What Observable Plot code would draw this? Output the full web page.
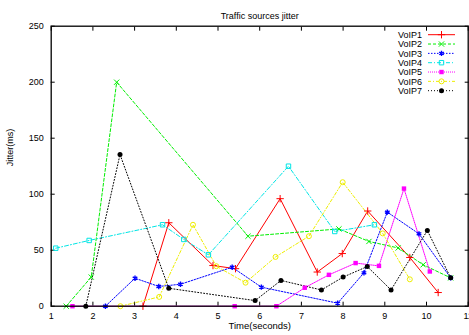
<!DOCTYPE html>
<html>
<head>
<meta charset="utf-8">
<script src="https://cdn.jsdelivr.net/npm/d3@7"></script>
<script src="https://cdn.jsdelivr.net/npm/@observablehq/plot@0.6"></script>
<style>
  html, body { margin: 0; padding: 0; background: white; }
  #chart { width: 469px; height: 335px; }
</style>
</head>
<body>
<div id="chart"></div>
<script>
const title = "Traffic sources jitter";
const xLabel = "Time(seconds)";
const yLabel = "Jitter(ms)";
const xTicks = [1, 2, 3, 4, 5, 6, 7, 8, 9, 10, 11];
const yTicks = [0, 50, 100, 150, 200, 250];
const seriesNames = ["VoIP1", "VoIP2", "VoIP3", "VoIP4", "VoIP5", "VoIP6", "VoIP7"];

const voip1X = [3.2, 3.82, 4.88, 5.42, 6.49, 7.38, 7.98, 8.59, 9.6, 10.28];
const voip1Y = [0, 74.5, 36.3, 33.5, 96, 30.5, 47, 85, 43.5, 12.2];
const voip2X = [1.36, 1.96, 2.57, 5.72, 7.9, 8.62, 9.32, 9.92, 10.58];
const voip2Y = [0, 26, 200, 62.5, 69, 57.8, 52, 37, 25.3];
const voip3X = [2.3, 3.01, 3.58, 4.1, 5.34, 6.04, 7.87, 8.5, 9.06, 9.82, 10.58];
const voip3Y = [0, 25, 17.6, 19.6, 34.8, 17, 2.7, 29.8, 84, 64.6, 25.3];
const voip4X = [1.11, 1.91, 3.67, 4.18, 4.77, 6.69, 7.8, 8.75];
const voip4Y = [51.8, 58.7, 72.7, 59.6, 45.9, 125, 66.7, 72.7];
const voip5X = [1.51, 5.4, 6.4, 7.08, 7.66, 8.3, 8.86, 9.46, 10.08];
const voip5Y = [0, 0, 0, 16.5, 28, 38.5, 36, 105, 31];
const voip6X = [2.66, 3.59, 4.4, 4.96, 5.66, 6.38, 7.18, 7.99, 8.95, 9.6];
const voip6Y = [0, 8.3, 72.7, 35.7, 21, 44, 62.5, 110.7, 65, 24];
const voip7X = [1.83, 2.65, 3.82, 5.89, 6.51, 7.48, 8.0, 8.58, 9.15, 10.02, 10.58];
const voip7Y = [0, 135.4, 16, 5, 23, 14.5, 26, 35.4, 14.5, 67.6, 25.3];

const xs = [voip1X, voip2X, voip3X, voip4X, voip5X, voip6X, voip7X];
const ys = [voip1Y, voip2Y, voip3Y, voip4Y, voip5Y, voip6Y, voip7Y];

// styles
const colors = ["#ff0000", "#00ee00", "#0000ff", "#00e5e5", "#ff00ff", "#eeee00", "#000000"];
const dashes = [null, "3,2", "1.5,1.5", "4,2,1,2", "1,1", "3,2,1,2", "1,2"];
const symbols = ["plus", "times", "asterisk", "square", "square", "circle", "circle"];
const filled = [false, false, false, false, true, false, true];
const markWidths = [1, 1, 1.4, 1, 0, 1, 0];

const series = seriesNames.map((name, i) =>
  xs[i].map((x, j) => ({series: name, x, y: ys[i][j]}))
);

const marks = [];
series.forEach((data, i) => {
  marks.push(Plot.line(data, {
    x: "x", y: "y", stroke: colors[i], strokeWidth: 1,
    strokeDasharray: dashes[i]
  }));
});
series.forEach((data, i) => {
  marks.push(Plot.dot(data, filled[i]
    ? {x: "x", y: "y", symbol: symbols[i], fill: colors[i], stroke: "none", r: 2.5}
    : {x: "x", y: "y", symbol: symbols[i], stroke: colors[i], fill: "none", strokeWidth: markWidths[i], r: 2.5}
  ));
});

const chart = Plot.plot({
  width: 469,
  height: 335,
  marginLeft: 50.7,
  marginRight: 1.3,
  marginTop: 25.7,
  marginBottom: 29.3,
  style: {fontFamily: "'Liberation Sans', Arial, sans-serif", fontSize: "9px", color: "black", background: "white"},
  x: {domain: [1, 11]},
  y: {domain: [0, 250]},
  marks: [
    Plot.axisX({anchor: "bottom", ticks: xTicks, tickSize: -4, tickPadding: 10, label: null, tickFormat: d => String(d)}),
    Plot.axisX({anchor: "top", ticks: xTicks, tickSize: -4, label: null, tickFormat: () => ""}),
    Plot.axisY({anchor: "left", ticks: yTicks, tickSize: -4, tickPadding: 11.5, label: null, tickFormat: d => String(d)}),
    Plot.axisY({anchor: "right", ticks: yTicks, tickSize: -4, label: null, tickFormat: () => ""}),
    ...marks,
    Plot.frame({stroke: "black", strokeWidth: 1.3}),
    Plot.text([title], {frameAnchor: "top", dy: -13.5, fontSize: 9}),
    Plot.text([xLabel], {frameAnchor: "bottom", dy: 23, fontSize: 9.5}),
    Plot.text([yLabel], {frameAnchor: "left", dx: -41, rotate: -90, fontSize: 9})
  ]
});

// legend (inside plot, top-right)
const svg = d3.select(chart);
const lg = svg.append("g").attr("font-family", "'Liberation Sans', Arial, sans-serif").attr("font-size", 9);
const symbolMap = {plus: d3.symbolPlus, times: d3.symbolTimes, asterisk: d3.symbolAsterisk, square: d3.symbolSquare, circle: d3.symbolCircle};
seriesNames.forEach((name, i) => {
  const cy = 34.7 + i * 9.33;
  lg.append("text").attr("x", 422).attr("y", cy).attr("text-anchor", "end")
    .attr("dy", "0.35em").attr("fill", "black").text(name);
  lg.append("line").attr("x1", 428).attr("x2", 455).attr("y1", cy).attr("y2", cy)
    .attr("stroke", colors[i]).attr("stroke-width", 1)
    .attr("stroke-dasharray", dashes[i]);
  const p = d3.symbol(symbolMap[symbols[i]], 2.5 * 2.5 * Math.PI)();
  const s = lg.append("path").attr("d", p).attr("transform", `translate(441.5,${cy})`);
  if (filled[i]) s.attr("fill", colors[i]).attr("stroke", "none");
  else s.attr("fill", "none").attr("stroke", colors[i]).attr("stroke-width", markWidths[i]);
});

document.getElementById("chart").appendChild(chart);
</script>
</body>
</html>
